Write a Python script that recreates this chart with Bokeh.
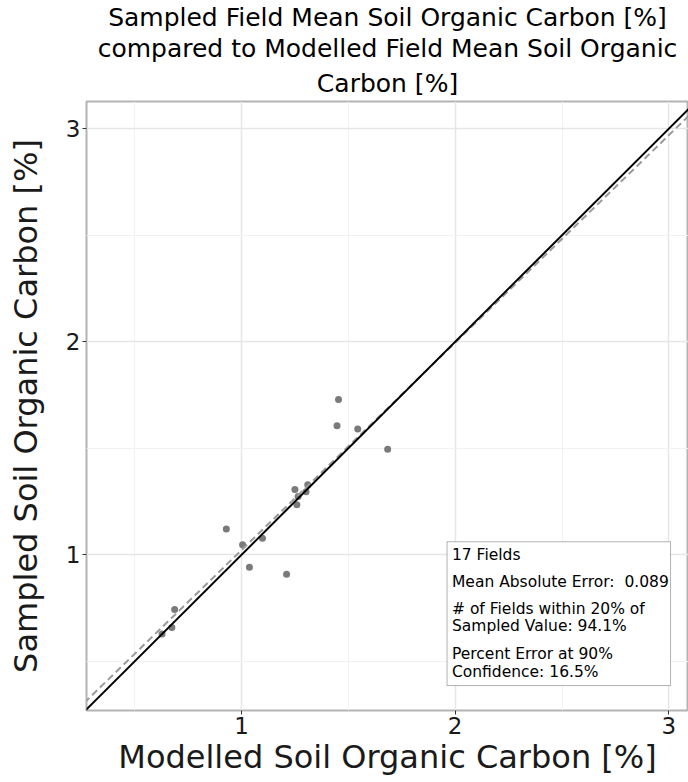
from bokeh.plotting import figure
from bokeh.models import Range1d, FixedTicker, Slope, BoxAnnotation, Label, Title
from bokeh.embed import file_html
from bokeh.resources import INLINE

# Data
modelled = [1.454, 1.447, 1.544, 1.684, 1.250, 1.310, 1.265, 1.302, 1.259,
            0.929, 1.005, 1.098, 1.037, 1.211, 0.687, 0.674, 0.628]
sampled = [1.729, 1.606, 1.590, 1.496, 1.307, 1.329, 1.274, 1.296, 1.235,
           1.121, 1.047, 1.078, 0.942, 0.909, 0.743, 0.659, 0.628]
fit_slope = 0.974
fit_intercept = 0.048
major_ticks = [1, 2, 3]
minor_ticks = [0.5, 1.5, 2.5]
title_lines = ["Sampled Field Mean Soil Organic Carbon [%]",
               "compared to Modelled Field Mean Soil Organic",
               "Carbon [%]"]
stats_lines = [
    ["17 Fields"],
    ["Mean Absolute Error: \u00a00.089"],
    ["# of Fields within 20% of", "Sampled Value: 94.1%"],
    ["Percent Error at 90%", "Confidence: 16.5%"],
]

FONT = "DejaVu Sans"

p = figure(width=688, height=782, output_backend="svg", toolbar_location=None,
           x_range=Range1d(0.2745, 3.092), y_range=Range1d(0.269, 3.128),
           title_location=None,
           min_border_left=86, min_border_right=0, min_border_top=100, min_border_bottom=72)

# multi-line, centred title: add in reverse (last added is outermost)
for i, t in enumerate(reversed(title_lines)):
    p.add_layout(Title(text=t, align="center", text_font=FONT, text_font_size="25px",
                       text_font_style="normal", text_color="black",
                       standoff=8 if i == 0 else 0), "above")

p.background_fill_color = "white"
p.border_fill_color = "white"
p.outline_line_color = "#b3b3b3"
p.outline_line_width = 2

for ax in (p.xaxis[0], p.yaxis[0]):
    ax.ticker = FixedTicker(ticks=major_ticks, minor_ticks=minor_ticks)
    ax.axis_line_color = None
    ax.major_tick_line_color = "#333333"
    ax.major_tick_out = 4
    ax.major_tick_in = 0
    ax.minor_tick_line_color = None
    ax.major_label_text_font = FONT
    ax.major_label_text_font_size = "23px"
    ax.major_label_text_color = "#1a1a1a"
    ax.axis_label_text_font = FONT
    ax.axis_label_text_font_size = "32px"
    ax.axis_label_text_font_style = "normal"
    ax.axis_label_text_color = "#1a1a1a"

p.xaxis.axis_label = "Modelled Soil Organic Carbon [%]"
p.yaxis.axis_label = "Sampled Soil Organic Carbon [%]"
p.xaxis.major_label_standoff = 2
p.xaxis.axis_label_standoff = 1
p.yaxis.major_label_standoff = 2
p.yaxis.axis_label_standoff = 18

for g in (p.xgrid[0], p.ygrid[0]):
    g.grid_line_color = "#e6e6e6"
    g.grid_line_width = 1.5
    g.minor_grid_line_color = "#f2f2f2"
    g.minor_grid_line_width = 1

p.scatter(modelled, sampled, size=7, color="#7a7a7a", line_color=None)

p.add_layout(Slope(gradient=fit_slope, y_intercept=fit_intercept,
                   line_color="#9a9a9a", line_width=2, line_dash="7 4"))
p.add_layout(Slope(gradient=1, y_intercept=0, line_color="black", line_width=2))

# Stats box
p.add_layout(BoxAnnotation(left=1.962, right=3.008, bottom=0.386, top=1.061,
                           fill_color="white", fill_alpha=1.0,
                           line_color="black", line_width=1))
line_ys = [[0.999], [0.874], [0.746, 0.664], [0.532, 0.449]]
for block, ys in zip(stats_lines, line_ys):
    for t, yy in zip(block, ys):
        p.add_layout(Label(x=1.985, y=yy, text=t, text_font=FONT, text_font_size="15.5px",
                           text_baseline="middle", text_align="left", text_color="black"))

open("out.html", "w").write(file_html(p, INLINE))
